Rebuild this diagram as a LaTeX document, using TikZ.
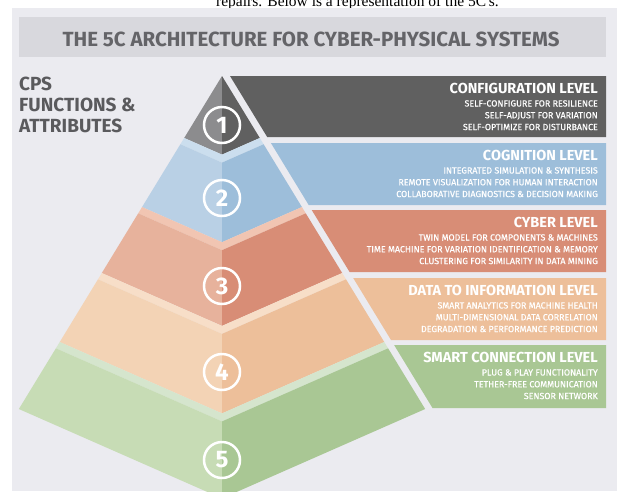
\documentclass[tikz,border=0pt]{standalone}
\usepackage{fontspec}
\setmainfont{Fira Sans}
\newfontfamily\introfont{Liberation Serif}

% palette
\definecolor{panelbg}{RGB}{235,235,240}
\definecolor{titlebar}{RGB}{216,216,221}
\definecolor{titletext}{RGB}{100,100,104}
\definecolor{cpstext}{RGB}{90,90,93}
\definecolor{confdark}{RGB}{96,96,96}
\definecolor{conflight}{RGB}{140,140,142}
\definecolor{cogdark}{RGB}{157,190,218}
\definecolor{coglight}{RGB}{185,208,229}
\definecolor{cogtop}{RGB}{203,222,238}
\definecolor{cybdark}{RGB}{216,141,118}
\definecolor{cyblight}{RGB}{231,178,156}
\definecolor{cybtop}{RGB}{241,197,178}
\definecolor{datdark}{RGB}{237,191,154}
\definecolor{datlight}{RGB}{243,211,181}
\definecolor{dattop}{RGB}{247,222,200}
\definecolor{smdark}{RGB}{169,199,148}
\definecolor{smlight}{RGB}{199,220,181}
\definecolor{smtop}{RGB}{213,229,205}

% front (centre) heights of the V-shaped cuts between the slabs
\def\FA{154.6}\def\FB{242.2}\def\FC{325.9}\def\FD{413.4}\def\FE{498.4}
\def\thk{8}

% one slab band: #1 light (left) colour, #2 dark (right) colour,
% #3 / #4 top and bottom heights on the centre line
\newcommand\pyrhalves[4]{%
  \fill[#1] (222,{#3}) -- (-100,{#3-141.68}) -- (-100,{#4-141.68}) -- (222,{#4}) -- cycle;
  \fill[#2] (222,{#3}) -- (544,{#3-141.68}) -- (544,{#4-141.68}) -- (222,{#4}) -- cycle;}

\begin{document}
\begin{tikzpicture}[x=1pt,y=-1pt,
  bartitle/.style={anchor=base east, text=white, inner sep=0pt,
    font=\bfseries\fontsize{14.5}{14.5}\selectfont},
  barline/.style={anchor=base east, text=white, inner sep=0pt,
    font=\fontsize{8.9}{8.9}\selectfont\addfontfeature{FakeBold=0.6}},
  cpsline/.style={anchor=base west, text=cpstext, inner sep=0pt,
    font=\bfseries\fontsize{19}{19}\selectfont},
  numcirc/.style={circle, draw=white, line width=2.5pt, minimum size=36pt,
    inner sep=0pt, text=white, font=\bfseries\fontsize{24}{24}\selectfont}]

\useasboundingbox (0,0) rectangle (627,491);
\clip (0,0) rectangle (627,491);
\fill[white] (0,0) rectangle (627,491);

% line of running text above the figure
\node[anchor=base west, inner sep=0pt, font=\introfont\fontsize{15.5}{15.5}\selectfont]
  (intro) at (216,6) {repairs. Below is a representation of the 5C's.};

% panel and heading
\fill[panelbg] (12,8) rectangle (617,491);
\fill[titlebar] (19,17) rectangle (606,57);
\node[anchor=base, inner sep=0pt, text=titletext,
  font=\bfseries\fontsize{20.5}{20.5}\selectfont]
  (title) at (311,46) {THE 5C ARCHITECTURE FOR CYBER-PHYSICAL SYSTEMS};

\node[cpsline] (cps1) at (19,90) {CPS};
\node[cpsline] (cps2) at (19,111) {FUNCTIONS \&};
\node[cpsline] (cps3) at (19,132) {ATTRIBUTES};

% pyramid
\begin{scope}
  \clip (222,76) -- (-46.4,516) -- (490.4,516) -- cycle;
  \pyrhalves{conflight}{confdark}{0}{\FA}
  \pyrhalves{cogtop}{cogtop}{\FA}{\FA+\thk}
  \pyrhalves{coglight}{cogdark}{\FA+\thk}{\FB}
  \pyrhalves{cybtop}{cybtop}{\FB}{\FB+\thk}
  \pyrhalves{cyblight}{cybdark}{\FB+\thk}{\FC}
  \pyrhalves{dattop}{dattop}{\FC}{\FC+\thk}
  \pyrhalves{datlight}{datdark}{\FC+\thk}{\FD}
  \pyrhalves{smtop}{smtop}{\FD}{\FD+\thk}
  \pyrhalves{smlight}{smdark}{\FD+\thk}{\FE}
\end{scope}

\node[numcirc] (n1) at (222,125) {1};
\node[numcirc] (n2) at (222,198) {2};
\node[numcirc] (n3) at (222,286) {3};
\node[numcirc] (n4) at (222,372) {4};
\node[numcirc] (n5) at (222,460) {5};

% level bars (left edge parallel to the pyramid side)
\fill[confdark] (230,76) -- (606,76) -- (606,137) -- (267.2,137) -- cycle;
\fill[cogdark]  (270.9,143) -- (606,143) -- (606,205) -- (308.7,205) -- cycle;
\fill[cybdark]  (311.7,210) -- (606,210) -- (606,272) -- (349.6,272) -- cycle;
\fill[datdark]  (353.2,278) -- (606,278) -- (606,340) -- (391,340) -- cycle;
\fill[smdark]   (394.1,345) -- (606,345) -- (606,408) -- (432.5,408) -- cycle;

\node[bartitle] (conf) at (598,93.5) {CONFIGURATION LEVEL};
\node[barline] (conf1) at (598,106.5) {SELF-CONFIGURE FOR RESILIENCE};
\node[barline] (conf2) at (598,118.3) {SELF-ADJUST FOR VARIATION};
\node[barline] (conf3) at (598,130.1) {SELF-OPTIMIZE FOR DISTURBANCE};

\node[bartitle] (cog) at (598,160.5) {COGNITION LEVEL};
\node[barline] (cog1) at (598,173.5) {INTEGRATED SIMULATION \& SYNTHESIS};
\node[barline] (cog2) at (598,185.3) {REMOTE VISUALIZATION FOR HUMAN INTERACTION};
\node[barline] (cog3) at (598,197.1) {COLLABORATIVE DIAGNOSTICS \& DECISION MAKING};

\node[bartitle] (cyb) at (598,227.5) {CYBER LEVEL};
\node[barline] (cyb1) at (598,240.5) {TWIN MODEL FOR COMPONENTS \& MACHINES};
\node[barline] (cyb2) at (598,252.3) {TIME MACHINE FOR VARIATION IDENTIFICATION \& MEMORY};
\node[barline] (cyb3) at (598,264.1) {CLUSTERING FOR SIMILARITY IN DATA MINING};

\node[bartitle] (dat) at (598,295.5) {DATA TO INFORMATION LEVEL};
\node[barline] (dat1) at (598,308.5) {SMART ANALYTICS FOR MACHINE HEALTH};
\node[barline] (dat2) at (598,320.3) {MULTI-DIMENSIONAL DATA CORRELATION};
\node[barline] (dat3) at (598,332.1) {DEGRADATION \& PERFORMANCE PREDICTION};

\node[bartitle] (sm) at (598,362.5) {SMART CONNECTION LEVEL};
\node[barline] (sm1) at (598,375.5) {PLUG \& PLAY FUNCTIONALITY};
\node[barline] (sm2) at (598,387.3) {TETHER-FREE COMMUNICATION};
\node[barline] (sm3) at (598,399.1) {SENSOR NETWORK};

\end{tikzpicture}
\end{document}
